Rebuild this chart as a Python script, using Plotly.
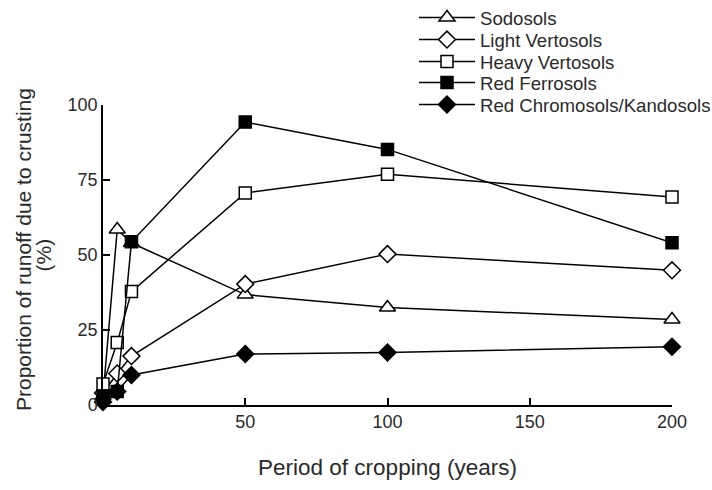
import plotly.graph_objects as go

years = [0, 5, 10, 50, 100, 200]
sodosols = [3, 58.5, 54, 36.8, 32.5, 28.5]
light_vertosols = [4, 10.5, 16.3, 40.3, 50.3, 44.9]
heavy_vertosols = [7, 20.8, 37.8, 70.7, 76.9, 69.3]
red_ferrosols = [3, 4.5, 54.4, 94.3, 85.2, 54.1]
red_chromosols = [1, 4.5, 10, 17, 17.5, 19.4]

series = [
    ("Sodosols", sodosols, "triangle-up", "white", 14),
    ("Light Vertosols", light_vertosols, "diamond", "white", 13),
    ("Heavy Vertosols", heavy_vertosols, "square", "white", 12),
    ("Red Ferrosols", red_ferrosols, "square", "black", 12),
    ("Red Chromosols/Kandosols", red_chromosols, "diamond", "black", 13),
]

y_title_lines = ["Proportion of runoff due to crusting", "(%)"]

TOP, BOTTOM, LEFT, RIGHT, W, H = 105, 85, 103, 40, 712, 490
plot_w = W - LEFT - RIGHT
plot_h = H - TOP - BOTTOM
legend_rows_px = [18, 40, 62, 83, 105]
FAMILY = "Liberation Sans, Arial, Helvetica, sans-serif"
TEXT = "#2a2a2a"

fig = go.Figure()
legend_layouts = {}
for i, (name, vals, sym, fill, size) in enumerate(series):
    key = "legend" if i == 0 else f"legend{i+1}"
    fig.add_trace(go.Scatter(
        x=years, y=vals, name=name, mode="lines+markers",
        line=dict(color="black", width=1.5),
        marker=dict(symbol=sym, size=size, color=fill,
                    line=dict(color="black", width=1.5)),
        cliponaxis=False, legend=key,
    ))
    legend_layouts[key] = dict(
        x=(414 - LEFT) / plot_w,
        y=(H - BOTTOM - legend_rows_px[i]) / plot_h,
        xanchor="left", yanchor="middle",
        bgcolor="rgba(0,0,0,0)",
        font=dict(family=FAMILY, size=18.6, color=TEXT),
        itemwidth=56,
    )

# y-axis title as two rotated lines with tight leading
title_px = [(24, 250), (42.5, 255)]
annotations = []
for txt, (px, py) in zip(y_title_lines, title_px):
    annotations.append(dict(
        text=txt, xref="paper", yref="paper",
        x=(px - LEFT) / plot_w, y=(H - BOTTOM - py) / plot_h,
        xanchor="center", yanchor="middle", textangle=-90, showarrow=False,
        font=dict(family=FAMILY, size=21, color=TEXT),
    ))

fig.update_layout(
    width=W, height=H, autosize=False,
    margin=dict(l=LEFT, r=RIGHT, t=TOP, b=BOTTOM, autoexpand=False),
    paper_bgcolor="white", plot_bgcolor="white",
    font=dict(family=FAMILY, size=18, color=TEXT),
    showlegend=True,
    annotations=annotations,
    xaxis=dict(range=[0, 200], tickvals=[50, 100, 150, 200],
               showline=True, linecolor="black", linewidth=1.5,
               ticks="inside", ticklen=7, tickwidth=1.5, tickcolor="black",
               showgrid=False, zeroline=False,
               title=dict(text="Period of cropping (years)", standoff=28,
                          font=dict(family=FAMILY, size=22.5, color=TEXT))),
    yaxis=dict(range=[0, 100], tickvals=[0, 25, 50, 75, 100],
               showline=True, linecolor="black", linewidth=1.5,
               ticks="inside", ticklen=7, tickwidth=1.5, tickcolor="black",
               showgrid=False, zeroline=False),
    **legend_layouts,
)

fig.write_html("out.html")
